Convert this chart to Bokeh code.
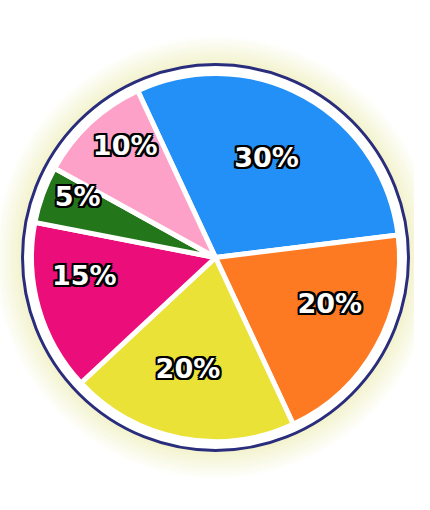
import math
from bokeh.plotting import figure
from bokeh.models import Range1d, ColumnDataSource
from bokeh.core.properties import value
from bokeh.embed import file_html
from bokeh.resources import INLINE

# ---- data ----
labels = ["30%", "20%", "20%", "15%", "5%", "10%"]
shares = [30, 20, 20, 15, 5, 10]
colors = ["#2390f7", "#fe7a22", "#ebe237", "#eb0d7a", "#24761a", "#fea1c9"]
start_deg = 115.0                      # first slice starts here, slices go clockwise
label_r = [0.61, 0.67, 0.62, 0.72, 0.82, 0.78]     # label distance (fraction of radius)
label_nudge = [2, 7, -3, -8, -4, -4]               # label angle nudge in degrees

W, H = 414, 494
cx, cy = 215, 237
R = 184
R_ring = 193

p = figure(width=W, height=H, output_backend="svg", toolbar_location=None,
           x_range=Range1d(0, W), y_range=Range1d(0, H), min_border=0)
p.axis.visible = False
p.grid.visible = False
p.outline_line_color = None
p.background_fill_color = "white"
p.border_fill_color = "white"

# soft yellow glow
for k in range(12):
    p.circle(x=[cx], y=[cy], radius=R_ring + 28 - k * 2.3, fill_color="#e9e26a",
             fill_alpha=0.025, line_color=None)

# ring
p.circle(x=[cx], y=[cy], radius=R_ring, fill_color="white", line_color="#2a2d7c", line_width=3)

total = float(sum(shares))
ends, starts, lx, ly = [], [], [], []
acc = 0.0
for i, s in enumerate(shares):
    a0 = start_deg - acc / total * 360.0
    acc += s
    a1 = start_deg - acc / total * 360.0
    starts.append(math.radians(a1))
    ends.append(math.radians(a0))
    mid = math.radians((a0 + a1) / 2 + label_nudge[i])
    lx.append(cx + R * label_r[i] * math.cos(mid))
    ly.append(cy + R * label_r[i] * math.sin(mid))

src = ColumnDataSource(dict(s=starts, e=ends, c=colors, lx=lx, ly=ly, t=labels))
p.wedge(x=cx, y=cy, radius=R, start_angle="s", end_angle="e", direction="anticlock",
        fill_color="c", line_color="white", line_width=5, source=src)

common = dict(x="lx", y="ly", text="t", source=src, text_font=value("DejaVu Sans"),
              text_font_style="bold", text_font_size="27px",
              text_align="center", text_baseline="middle")
# black halo made of offset copies, then white face
d = 2
for ox, oy in [(-d, 0), (d, 0), (0, -d), (0, d), (-d, -d), (d, d), (-d, d), (d, -d)]:
    p.text(text_color="black", x_offset=ox, y_offset=oy, **common)
p.text(text_color="white", **common)

open("out.html", "w").write(file_html(p, INLINE))
